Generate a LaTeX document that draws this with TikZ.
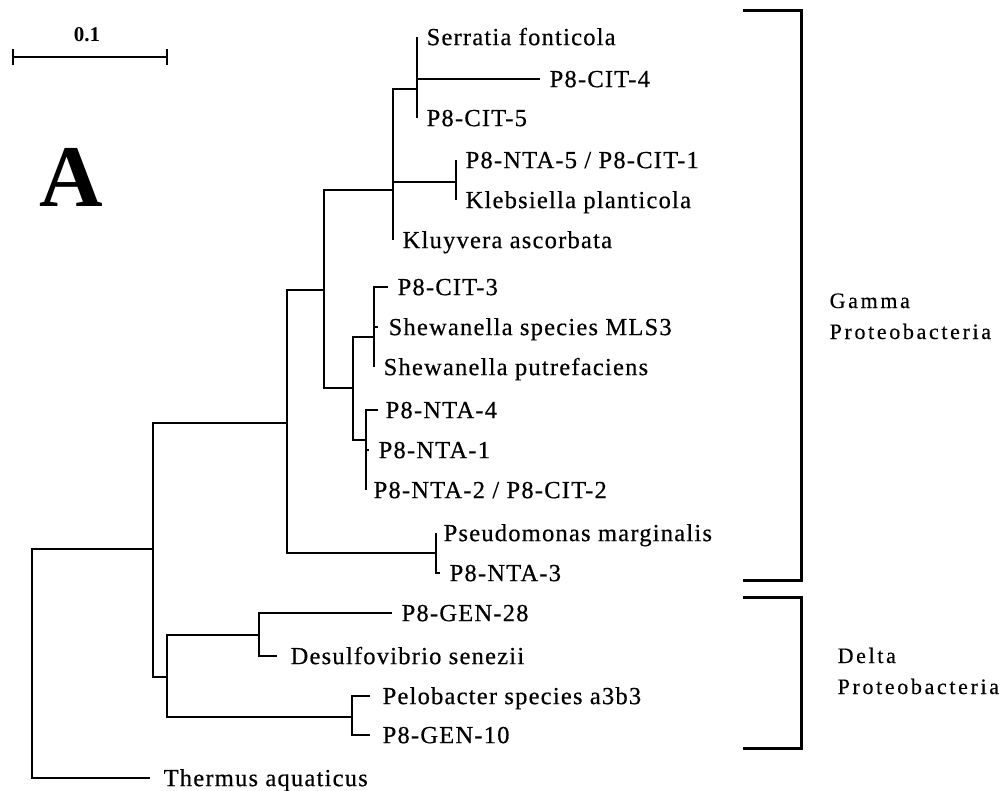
\documentclass[tikz,border=0pt]{standalone}
\usepackage{fontspec}
\setmainfont{Liberation Serif}
\newfontfamily\labfont[LetterSpace=5,FakeBold=0.5]{Liberation Serif}
\newfontfamily\grpfont[LetterSpace=12,FakeBold=0.4]{Liberation Serif}
\begin{document}
\begin{tikzpicture}[x=1pt,y=-1pt,line width=1.3pt,
  leaf/.style={anchor=west,inner xsep=9pt,inner ysep=0pt,text height=16.2pt,text depth=0pt,
    font=\labfont\fontsize{24.5}{28}\selectfont},
  group/.style={anchor=base west,align=left,inner sep=0pt,
    font=\grpfont\fontsize{22}{31}\selectfont},
  bracket/.style={line width=3pt}]
  \useasboundingbox (0,0) rectangle (1008,791);

  %scale bar
  \node[font=\bfseries\fontsize{21}{23}\selectfont] (scale) at (87,35) {0.1};
  \draw (13,57) -- (167,57);
  \draw (13,49) -- (13,65);
  \draw (167,49) -- (167,65);
  \node[anchor=base,font=\bfseries\fontsize{88}{90}\selectfont] (panel) at (71,207) {A};

  %inner nodes
  \coordinate (root) at (32,663);
  \coordinate (n1) at (153,549);
  \coordinate (g0) at (287,423);
  \coordinate (g1) at (324,290);
  \coordinate (g2) at (393,190);
  \coordinate (gs) at (417,89);
  \coordinate (gk) at (456,182);
  \coordinate (g3) at (353,388);
  \coordinate (gsh) at (374,337);
  \coordinate (gn) at (366,440);
  \coordinate (gp) at (436,553);
  \coordinate (d0) at (167,677);
  \coordinate (d1) at (259,635);
  \coordinate (d2) at (352,717);

  %leaves
  \node[leaf] (serratia) at (417,37) {Serratia fonticola};
  \node[leaf] (cit4) at (540,79) {P8-CIT-4};
  \node[leaf] (cit5) at (417,118) {P8-CIT-5};
  \node[leaf] (nta5) at (456,160) {P8-NTA-5 / P8-CIT-1};
  \node[leaf] (klebsiella) at (456,200) {Klebsiella planticola};
  \node[leaf] (kluyvera) at (393,240) {Kluyvera ascorbata};
  \node[leaf] (cit3) at (388,287) {P8-CIT-3};
  \node[leaf,inner xsep=10pt] (mls3) at (378,327) {Shewanella species MLS3};
  \node[leaf] (putrefaciens) at (374,367) {Shewanella putrefaciens};
  \node[leaf,inner xsep=7pt] (nta4) at (378,410) {P8-NTA-4};
  \node[leaf,inner xsep=9pt] (nta1) at (369,450) {P8-NTA-1};
  \node[leaf,inner xsep=7pt] (nta2) at (366,490) {P8-NTA-2 / P8-CIT-2};
  \node[leaf,inner xsep=7pt] (pseudomonas) at (436,533) {Pseudomonas marginalis};
  \node[leaf] (nta3) at (440,573) {P8-NTA-3};
  \node[leaf] (gen28) at (392,613) {P8-GEN-28};
  \node[leaf,inner xsep=13pt] (desulfo) at (277,656) {Desulfovibrio senezii};
  \node[leaf,inner xsep=12pt] (pelobacter) at (370,696) {Pelobacter species a3b3};
  \node[leaf,inner xsep=12pt] (gen10) at (370,735) {P8-GEN-10};
  \node[leaf,inner xsep=13pt] (thermus) at (150,778) {Thermus aquaticus};

  %branches
  \draw (root) |- (n1) (root) |- (thermus.west);
  \draw (n1) |- (g0) (n1) |- (d0);
  \draw (g0) |- (g1) (g0) |- (gp);
  \draw (g1) |- (g2) (g1) |- (g3);
  \draw (g2) |- (gs) (g2) |- (gk) (g2) |- (kluyvera.west);
  \draw (gs) |- (serratia.west) (gs) |- (cit4.west) (gs) |- (cit5.west);
  \draw (gk) |- (nta5.west) (gk) |- (klebsiella.west);
  \draw (g3) |- (gsh) (g3) |- (gn);
  \draw (gsh) |- (cit3.west) (gsh) |- (mls3.west) (gsh) |- (putrefaciens.west);
  \draw (gn) |- (nta4.west) (gn) |- (nta1.west) (gn) |- (nta2.west);
  \draw (gp) |- (pseudomonas.west) (gp) |- (nta3.west);
  \draw (d0) |- (d1) (d0) |- (d2);
  \draw (d1) |- (gen28.west) (d1) |- (desulfo.west);
  \draw (d2) |- (pelobacter.west) (d2) |- (gen10.west);

  %groups
  \draw[bracket] (743,11) -- (801,11) -- (801,580) -- (743,580);
  \draw[bracket] (743,597) -- (801,597) -- (801,748) -- (743,748);
  \node[group] (gamma) at (829,339) {Gamma\\Proteobacteria};
  \node[group] (delta) at (837,694) {Delta\\Proteobacteria};
\end{tikzpicture}
\end{document}
